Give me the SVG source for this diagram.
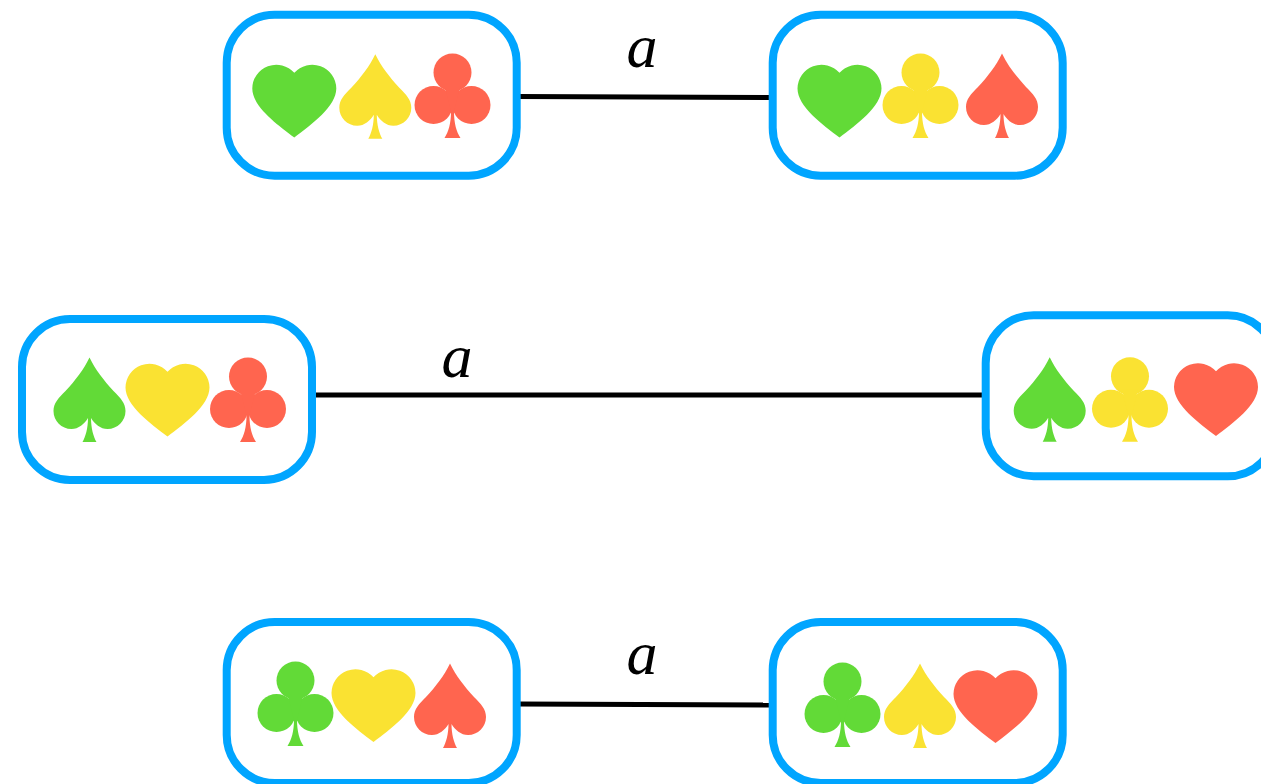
<svg xmlns="http://www.w3.org/2000/svg" width="1261" height="784" viewBox="0 0 1261 784">
<style>
.box{fill:#fff;stroke:#00A5FF;stroke-width:8}
.g{fill:#62DA37}.y{fill:#FAE232}.r{fill:#FF654F}
.edge{stroke:#000;stroke-width:5;fill:none}
.lbl{font-family:"Liberation Serif","Times New Roman",serif;font-style:italic;font-size:62px;fill:#000;text-anchor:middle}
</style>
<defs>
<path id="heart" d="M0 0C-17-13-42-31-42-49A24 24 0 0 1 0-64.700A24 24 0 0 1 42-49C42-31 17-13 0 0Z"/>
<path id="spade" d="M0-84.500C6-72 14-62 24-51C31-44 36-39 36-31C36-21 28-13 18-13C11-13 5-18 1.500-24C1.500-14 4-5 7 0H-7C-4-5-1.500-14-1.500-24C-5-18-11-13-18-13C-28-13-36-21-36-31C-36-39-31-44-24-51C-14-62-6-72 0-84.500Z"/>
<g id="club"><circle cx="0" cy="-65.500" r="19"/><circle cx="-19" cy="-33" r="19"/><circle cx="19" cy="-33" r="19"/><path d="M-8-52H8L1.500-26C1.500-15 4-6 8 0H-8C-4-6-1.500-15-1.500-26Z"/></g>
<rect id="frame" x="0" y="0" width="290" height="161" rx="48" ry="48"/>
</defs>
<rect width="1261" height="784" fill="#fff"/>
<g id="connectors">
<line class="edge" x1="518" y1="96.500" x2="774" y2="97.500"/>
<line class="edge" x1="312" y1="395" x2="986" y2="395"/>
<line class="edge" x1="518" y1="704" x2="774" y2="705"/>
</g>
<g id="label-1"><text class="lbl" x="642" y="67">a</text></g>
<g id="label-2"><text class="lbl" x="457" y="377">a</text></g>
<g id="label-3"><text class="lbl" x="642" y="674">a</text></g>
<g id="node-1">
<use href="#frame" class="box" x="226.700" y="14.700"/>
<use href="#heart" class="g" x="294.300" y="137.500"/><use href="#spade" class="y" x="375.300" y="138.700"/><use href="#club" class="r" x="452.500" y="138"/>
</g>
<g id="node-2">
<use href="#frame" class="box" x="772.700" y="14.700"/>
<use href="#heart" class="g" x="839.500" y="137.500"/><use href="#club" class="y" x="920.500" y="138"/><use href="#spade" class="r" x="1002" y="138"/>
</g>
<g id="node-3">
<use href="#frame" class="box" x="22" y="319"/>
<use href="#spade" class="g" x="89.500" y="442"/><use href="#heart" class="y" x="167.500" y="436.500"/><use href="#club" class="r" x="248" y="442"/>
</g>
<g id="node-4">
<use href="#frame" class="box" x="985.700" y="315.300"/>
<use href="#spade" class="g" x="1049.700" y="441.700"/><use href="#club" class="y" x="1130" y="441.700"/><use href="#heart" class="r" x="1216" y="436"/>
</g>
<g id="node-5">
<use href="#frame" class="box" x="226.700" y="622"/>
<use href="#club" class="g" x="295.500" y="746"/><use href="#heart" class="y" x="373.500" y="742"/><use href="#spade" class="r" x="450" y="748"/>
</g>
<g id="node-6">
<use href="#frame" class="box" x="772.700" y="622"/>
<use href="#club" class="g" x="842.500" y="747"/><use href="#spade" class="y" x="920" y="748"/><use href="#heart" class="r" x="995.500" y="743"/>
</g>
</svg>
